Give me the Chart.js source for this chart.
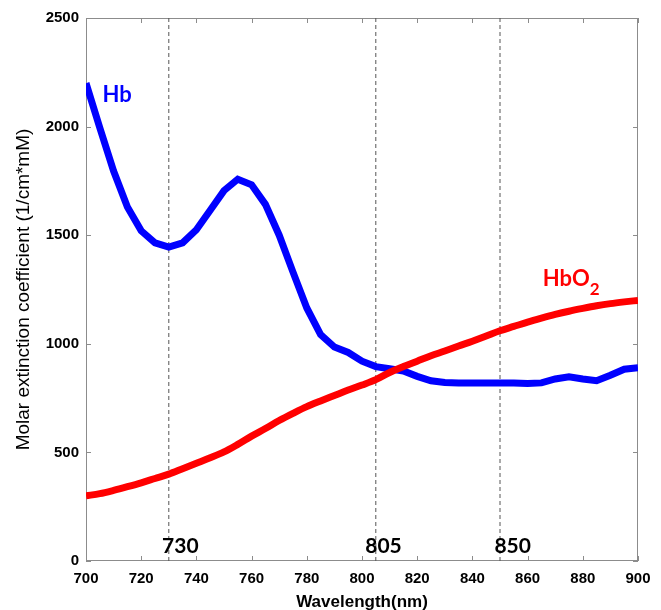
<!DOCTYPE html>
<html><head><meta charset="utf-8">
<script src="https://cdn.jsdelivr.net/npm/chart.js@4.4.0/dist/chart.umd.min.js"></script>
<style>html,body{margin:0;padding:0;background:#fff;}</style>
</head><body>
<canvas id="c" width="661" height="610"></canvas>
<script>
const wavelengths = [700,705,710,715,720,725,730,735,740,745,750,755,760,765,770,775,780,785,790,795,800,805,810,815,820,825,830,835,840,845,850,855,860,865,870,875,880,885,890,895,900];
const hb = [2200,1995,1795,1630,1520,1465,1445,1465,1525,1615,1705,1758,1732,1642,1500,1330,1165,1042,985,960,920,895,885,875,850,830,822,820,820,820,820,820,817,820,838,848,838,830,855,883,890];
const hbo2 = [300,310,325,342,360,380,400,425,450,475,502,537,575,610,647,680,711,737,762,787,810,835,868,895,920,945,967,990,1012,1036,1060,1080,1100,1118,1135,1150,1163,1175,1185,1193,1200];
const markerWavelengths = [730, 805, 850];
const markerLabels = ['730', '805', '850'];
const yMin = 0, yMax = 2500;

const pts = arr => wavelengths.map((w, i) => ({x: w, y: arr[i]}));
const dashSets = markerWavelengths.map(w => ({
  data: [{x: w, y: yMin}, {x: w, y: yMax}],
  borderColor: '#555', borderWidth: 1, borderDash: [4, 3],
  pointRadius: 0, order: 5, clip: false
}));

const framePlugin = {
  id: 'frame',
  beforeDatasetsDraw(chart) {
    const {ctx, chartArea: a, scales: {x, y}} = chart;
    ctx.save();
    ctx.strokeStyle = '#8c8c8c'; ctx.lineWidth = 1;
    ctx.strokeRect(a.left + 0.5, a.top + 0.5, a.right - a.left - 1, a.bottom - a.top - 1);
    ctx.beginPath();
    x.ticks.forEach(t => {
      const px = Math.round(x.getPixelForValue(t.value)) + 0.5;
      ctx.moveTo(px, a.bottom); ctx.lineTo(px, a.bottom - 5);
      ctx.moveTo(px, a.top); ctx.lineTo(px, a.top + 5);
    });
    y.ticks.forEach(t => {
      const py = Math.round(y.getPixelForValue(t.value)) + 0.5;
      ctx.moveTo(a.left, py); ctx.lineTo(a.left + 5, py);
      ctx.moveTo(a.right, py); ctx.lineTo(a.right - 5, py);
    });
    ctx.stroke();
    ctx.restore();
  },
  afterDatasetsDraw(chart) {
    const {ctx, scales: {x, y}} = chart;
    ctx.save();
    ctx.textBaseline = 'alphabetic';
    ctx.fillStyle = '#000';
    ctx.font = 'bold 21px Lato';
    ctx.textAlign = 'center';
    const labelX = [734.2, 807.8, 854.6];
    markerLabels.forEach((s, i) => ctx.fillText(s, x.getPixelForValue(labelX[i]), y.getPixelForValue(37)));
    ctx.textAlign = 'left';
    ctx.fillStyle = '#0000ff';
    ctx.font = 'bold 22px Lato';
    ctx.fillText('Hb', x.getPixelForValue(706), y.getPixelForValue(2115));
    ctx.fillStyle = '#ff0000';
    const hx = x.getPixelForValue(865.5), hy = y.getPixelForValue(1266);
    ctx.fillText('HbO', hx, hy);
    const w = ctx.measureText('HbO').width;
    ctx.font = 'bold 17px Lato';
    ctx.fillText('2', hx + w, hy + 9);
    ctx.restore();
  }
};

new Chart(document.getElementById('c'), {
  type: 'line',
  data: {
    datasets: [
      {label: 'HbO2', data: pts(hbo2), borderColor: '#ff0000', borderWidth: 7, pointRadius: 0, cubicInterpolationMode: 'monotone', order: 0},
      {label: 'Hb', data: pts(hb), borderColor: '#0000ff', borderWidth: 7, pointRadius: 0, tension: 0, order: 1},
      ...dashSets
    ]
  },
  options: {
    responsive: false, animation: false, devicePixelRatio: 1,
    layout: {padding: {top: 18, right: 23, left: 0, bottom: 0}},
    plugins: {legend: {display: false}, tooltip: {enabled: false}},
    scales: {
      x: {
        type: 'linear', min: 700, max: 900,
        afterFit(s) { s.height = 49; },
        grid: {display: false, drawTicks: false},
        border: {display: false},
        ticks: {stepSize: 20, padding: 9, color: '#000', callback: v => String(v),
          font: {family: 'Liberation Sans', size: 15, weight: 'bold'}},
        title: {display: true, text: 'Wavelength(nm)', color: '#000', padding: {top: 0, bottom: -3},
          font: {family: 'Liberation Sans', size: 17, weight: 'bold'}}
      },
      y: {
        min: yMin, max: yMax,
        afterFit(s) { s.width = 86; },
        grid: {display: false, drawTicks: false},
        border: {display: false},
        ticks: {stepSize: 500, padding: 7, color: '#000', callback: v => String(v),
          font: {family: 'Liberation Sans', size: 15, weight: 'bold'}},
        title: {display: true, text: 'Molar extinction coefficient (1/cm*mM)', color: '#000', padding: {top: 12, bottom: 0},
          font: {family: 'Liberation Sans', size: 19}}
      }
    }
  },
  plugins: [framePlugin]
});
</script>
</body></html>
